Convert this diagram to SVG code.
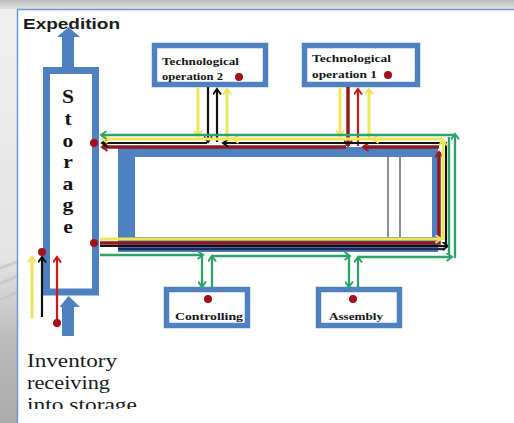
<svg xmlns="http://www.w3.org/2000/svg" width="514" height="423" viewBox="0 0 514 423">
  <defs>
    <linearGradient id="topShade" x1="0" y1="0" x2="0" y2="1">
      <stop offset="0" stop-color="#bdbdbd"/>
      <stop offset="1" stop-color="#e4e4e4"/>
    </linearGradient>
    <linearGradient id="leftShade" x1="0" y1="0" x2="0" y2="1">
      <stop offset="0" stop-color="#f0f0f0"/>
      <stop offset="0.6" stop-color="#e4e4e4"/>
      <stop offset="0.8" stop-color="#bcbcbc"/>
      <stop offset="1" stop-color="#aaaaaa"/>
    </linearGradient>
    <clipPath id="pageClip">
      <rect x="17" y="9" width="497" height="400"/>
    </clipPath>
    <!-- open chevron arrowheads, one per line colour -->
    <marker id="ah-y" markerUnits="userSpaceOnUse" markerWidth="9" markerHeight="9" refX="6.5" refY="4.5" orient="auto">
      <path d="M1,0.5 L6.5,4.5 L1,8.5" fill="none" stroke="#ece658" stroke-width="2"/>
    </marker>
    <marker id="ah-k" markerUnits="userSpaceOnUse" markerWidth="9" markerHeight="9" refX="6.5" refY="4.5" orient="auto">
      <path d="M1,0.5 L6.5,4.5 L1,8.5" fill="none" stroke="#111111" stroke-width="2"/>
    </marker>
    <marker id="ah-m" markerUnits="userSpaceOnUse" markerWidth="9" markerHeight="9" refX="6.5" refY="4.5" orient="auto">
      <path d="M1,0.5 L6.5,4.5 L1,8.5" fill="none" stroke="#9a1a1e" stroke-width="2"/>
    </marker>
    <marker id="ah-r" markerUnits="userSpaceOnUse" markerWidth="9" markerHeight="9" refX="6.5" refY="4.5" orient="auto">
      <path d="M1,0.5 L6.5,4.5 L1,8.5" fill="none" stroke="#d01818" stroke-width="2"/>
    </marker>
    <marker id="ah-g" markerUnits="userSpaceOnUse" markerWidth="9" markerHeight="9" refX="6.5" refY="4.5" orient="auto">
      <path d="M1,0.5 L6.5,4.5 L1,8.5" fill="none" stroke="#2ba46c" stroke-width="2"/>
    </marker>
  </defs>
  <style>
    .box{fill:#ffffff;stroke:#4f81c0;stroke-width:5.5}
    .wall{fill:none;stroke:#4f81c0;stroke-width:7}
    .fat{fill:#4f81c0}
    .lbl{font-family:"Liberation Serif","Times New Roman",serif;font-weight:bold;font-size:10.5px;fill:#151515}
    .big{font-family:"Liberation Serif","Times New Roman",serif;font-weight:bold;font-size:18px;fill:#151515}
    .note{font-family:"Liberation Serif","Times New Roman",serif;font-size:18px;fill:#1a1a1a}
    .head{font-family:"Liberation Sans",Arial,sans-serif;font-weight:bold;font-size:15px;fill:#1a1a1a}
    .ln{fill:none}
    .y{stroke:#ece658;stroke-width:3}
    .k{stroke:#111111;stroke-width:2.2}
    .m{stroke:#8e1b1f;stroke-width:3.5}
    .r{stroke:#d01818;stroke-width:2.2}
    .n{stroke:#1f2a5c;stroke-width:2.5}
    .g{stroke:#2ba46c;stroke-width:2.3}
    .dot{fill:#a3101c}
    .rail{stroke:#8a8f98;stroke-width:2}
  </style>

  <!-- surrounding window chrome -->
  <rect x="0" y="0" width="514" height="423" fill="#e4e4e4"/>
  <rect x="0" y="0" width="514" height="10" fill="url(#topShade)"/>
  <rect x="0" y="9" width="17" height="414" fill="url(#leftShade)"/>
  <g stroke="#c4c4c4" stroke-width="3" opacity="0.7">
    <path d="M0,268 L17,262"/>
    <path d="M0,284 L17,276"/>
    <path d="M0,300 L17,292"/>
  </g>

  <!-- page -->
  <rect x="17" y="9" width="497" height="414" fill="#ffffff"/>
  <path d="M17.5,423 V9.5 H514" fill="none" stroke="#6c9ad6" stroke-width="1.5"/>

  <text class="head" x="23" y="29" textLength="97" lengthAdjust="spacingAndGlyphs">Expedition</text>

  <!-- transport loop frame -->
  <g id="transport-loop">
    <rect x="118" y="147" width="320" height="105" fill="#4f81c0"/>
    <rect x="135" y="157" width="297" height="80" fill="#ffffff"/>
    <line class="rail" x1="388" y1="157" x2="388" y2="237"/>
    <line class="rail" x1="400" y1="157" x2="400" y2="237"/>
  </g>

  <!-- storage -->
  <g id="storage">
    <path class="fat" d="M62,67 V37 H57 L68.5,27 L80,37 H74 V67 Z"/>
    <path class="fat" d="M62,336 V307 H59.5 L68.5,296 L80,307 H74 V336 Z"/>
    <rect class="wall" x="46.5" y="70.5" width="49" height="221.5" fill="#ffffff"/>
    <g transform="translate(68,0) scale(1.2,1)">
      <text class="big" x="0" y="103" text-anchor="middle">S</text>
      <text class="big" x="0" y="125" text-anchor="middle">t</text>
      <text class="big" x="0" y="147" text-anchor="middle">o</text>
      <text class="big" x="0" y="168" text-anchor="middle">r</text>
      <text class="big" x="0" y="190" text-anchor="middle">a</text>
      <text class="big" x="0" y="211" text-anchor="middle">g</text>
      <text class="big" x="0" y="233" text-anchor="middle">e</text>
    </g>
  </g>

  <!-- operations -->
  <g id="tech-op-2">
    <rect class="box" x="154.5" y="45.5" width="111" height="39"/>
    <text class="lbl" x="162" y="65" textLength="77" lengthAdjust="spacingAndGlyphs">Technological</text>
    <text class="lbl" x="162" y="80" textLength="61" lengthAdjust="spacingAndGlyphs">operation 2</text>
    <circle class="dot" cx="239" cy="77" r="4"/>
  </g>
  <g id="tech-op-1">
    <rect class="box" x="304.5" y="45.5" width="113" height="39"/>
    <text class="lbl" x="312" y="62" textLength="79" lengthAdjust="spacingAndGlyphs">Technological</text>
    <text class="lbl" x="312" y="78" textLength="65" lengthAdjust="spacingAndGlyphs">operation 1</text>
    <circle class="dot" cx="388" cy="75" r="4"/>
  </g>
  <g id="controlling">
    <rect class="box" x="166.5" y="289.5" width="81" height="36"/>
    <circle class="dot" cx="208" cy="299" r="4"/>
    <text class="lbl" x="175" y="320" textLength="68" lengthAdjust="spacingAndGlyphs">Controlling</text>
  </g>
  <g id="assembly">
    <rect class="box" x="318.5" y="289.5" width="81" height="36"/>
    <circle class="dot" cx="353" cy="299" r="4"/>
    <text class="lbl" x="329" y="320" textLength="54" lengthAdjust="spacingAndGlyphs">Assembly</text>
  </g>

  <!-- flows -->
  <g id="connectors">
    <!-- navy base line of the loop -->
    <path class="ln n" d="M118,249 H445"/>

    <!-- maroon flow: storage -> loop -> operation 1 -> storage -->
    <path class="ln m" d="M100,243 H439 V152" marker-end="url(#ah-m)"/>
    <path class="ln m" d="M439,147 H363" marker-end="url(#ah-m)"/>
    <path class="ln m" d="M346,147 H102" marker-end="url(#ah-m)"/>
    <path class="ln r" d="M358,146 V89" marker-end="url(#ah-r)"/>
    <path class="ln m" d="M348,87 V146" marker-end="url(#ah-m)"/>

    <!-- black flow: storage -> loop -> operation 2 -> storage -->
    <path class="ln k" d="M100,246 H448" marker-end="url(#ah-k)"/>
    <path class="ln k" d="M446,246 V143 H223" marker-end="url(#ah-k)"/>
    <path class="ln k" d="M207,143 H102" marker-end="url(#ah-k)"/>
    <path class="ln k" d="M217,142 V89" marker-end="url(#ah-k)"/>
    <path class="ln k" d="M208,87 V142" marker-end="url(#ah-k)"/>

    <!-- yellow flow: storage -> loop -> operations 1 and 2 -> storage -->
    <path class="ln y" d="M100,239 H441" marker-end="url(#ah-y)"/>
    <path class="ln y" d="M443,240 V140" marker-end="url(#ah-y)"/>
    <path class="ln y" d="M442,139 H373" marker-end="url(#ah-y)"/>
    <path class="ln y" d="M373,139 H233" marker-end="url(#ah-y)"/>
    <path class="ln y" d="M233,139 H102" marker-end="url(#ah-y)"/>
    <path class="ln y" d="M369,138 V89" marker-end="url(#ah-y)"/>
    <path class="ln y" d="M340,87 V136" marker-end="url(#ah-y)"/>
    <path class="ln y" d="M227,138 V89" marker-end="url(#ah-y)"/>
    <path class="ln y" d="M198,87 V136" marker-end="url(#ah-y)"/>

    <!-- green flow: outer loop through controlling and assembly -->
    <path class="ln g" d="M455,135 H101" marker-end="url(#ah-g)"/>
    <path class="ln g" d="M455,258 V134" marker-end="url(#ah-g)"/>
    <path class="ln g" d="M449,137 V255"/>
    <path class="ln g" d="M100,255 H203" marker-end="url(#ah-g)"/>
    <path class="ln g" d="M202,255 V287" marker-end="url(#ah-g)"/>
    <path class="ln g" d="M212,287 V256" marker-end="url(#ah-g)"/>
    <path class="ln g" d="M212,256 H350" marker-end="url(#ah-g)"/>
    <path class="ln g" d="M349,256 V287" marker-end="url(#ah-g)"/>
    <path class="ln g" d="M358,287 V257" marker-end="url(#ah-g)"/>
    <path class="ln g" d="M358,257 H452" marker-end="url(#ah-g)"/>

    <!-- incoming flows at the storage -->
    <path class="ln y" d="M32,318 V257" marker-end="url(#ah-y)"/>
    <path class="ln k" d="M42,317 V257" marker-end="url(#ah-k)"/>
    <path class="ln r" d="M57,322 V257" marker-end="url(#ah-r)"/>

    <circle class="dot" cx="94" cy="143" r="4"/>
    <circle class="dot" cx="94" cy="243" r="4"/>
    <circle class="dot" cx="42" cy="252" r="4"/>
    <circle class="dot" cx="57" cy="323" r="4"/>
  </g>

  <g clip-path="url(#pageClip)">
    <text class="note" x="27" y="367" textLength="90" lengthAdjust="spacingAndGlyphs">Inventory</text>
    <text class="note" x="27" y="389" textLength="83" lengthAdjust="spacingAndGlyphs">receiving</text>
    <text class="note" x="27" y="411" textLength="110" lengthAdjust="spacingAndGlyphs">into storage</text>
  </g>
</svg>
